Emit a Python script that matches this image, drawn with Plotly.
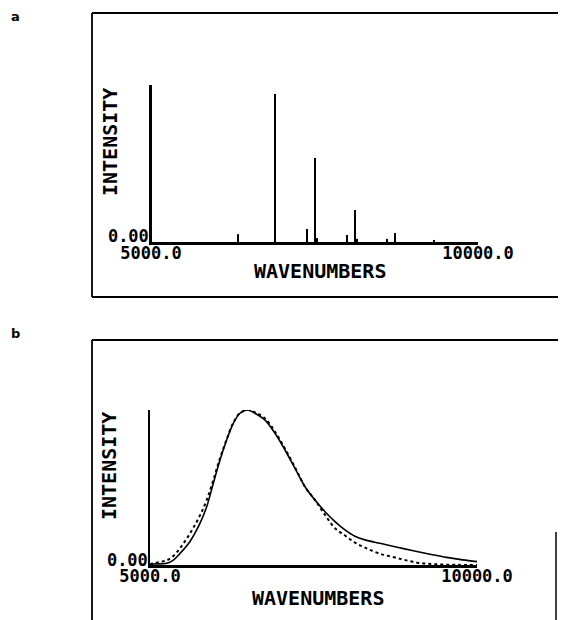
import plotly.graph_objects as go

OFF = 8  # page body margin
W, H = 566 - OFF, 620 - OFF

# ---- data ----
# panel a: stick spectrum
stick_wn = [5000, 6330, 6896, 7385, 7508, 7538, 7997, 8119, 8150, 8609, 8731, 9327]
stick_int = [1.0, 0.05, 0.943, 0.083, 0.535, 0.025, 0.045, 0.204, 0.02, 0.02, 0.057, 0.013]

# panel b: solid (observed) band
solid_wn = [5000, 5051, 5255, 5357, 5459, 5612, 5765, 5867, 5968, 6070, 6172, 6274,
            6376, 6488, 6606, 6758, 6911, 7064, 7217, 7370, 7523, 7676, 7829, 7982,
            8134, 8287, 8517, 8780, 9026, 9300, 9536, 9780, 10000]
solid_int = [0.0, 0.006, 0.011, 0.032, 0.075, 0.152, 0.27, 0.376, 0.527, 0.677, 0.806, 0.914,
             0.979, 1.0, 0.978, 0.935, 0.85, 0.742, 0.624, 0.505, 0.419, 0.344, 0.28, 0.226,
             0.185, 0.162, 0.14, 0.115, 0.092, 0.068, 0.049, 0.033, 0.022]

# panel b: dotted (calculated) band
dot_wn = [5000, 5051, 5153, 5255, 5357, 5459, 5561, 5663, 5765, 5867, 5968, 6070, 6172,
          6274, 6376, 6500, 6606, 6758, 6911, 7064, 7217, 7370, 7523, 7676, 7829, 7982,
          8134, 8287, 8500, 8780, 9085, 9400, 9700, 10000]
dot_int = [0.005, 0.011, 0.019, 0.03, 0.058, 0.108, 0.17, 0.24, 0.32, 0.419, 0.548, 0.688,
           0.81, 0.918, 0.98, 1.0, 0.985, 0.946, 0.86, 0.75, 0.63, 0.505, 0.419, 0.323, 0.237,
           0.19, 0.145, 0.112, 0.075, 0.045, 0.015, 0.004, 0.001, 0.0]

x_ticks = [5000, 10000]
x_ticktext = ["5000.0", "10000.0"]
y_ticks = [0]
y_ticktext = ["0.00"]

FONT = "DejaVu Sans Mono"

def px(x):
    return (x - OFF) / W

def py(y):
    return 1 - (y - OFF) / H

# build stick segments
sx, sy = [], []
for w, v in zip(stick_wn, stick_int):
    sx += [w, w, None]
    sy += [0, v, None]

fig = go.Figure()
fig.add_trace(go.Scatter(x=sx, y=sy, mode="lines", line=dict(color="black", width=2),
                         xaxis="x", yaxis="y", showlegend=False, cliponaxis=False))
fig.add_trace(go.Scatter(x=dot_wn, y=dot_int, mode="lines",
                         line=dict(color="black", width=2, dash="dot", shape="spline"),
                         xaxis="x2", yaxis="y2", showlegend=False, cliponaxis=False))
fig.add_trace(go.Scatter(x=solid_wn, y=solid_int, mode="lines",
                         line=dict(color="black", width=1.6, shape="spline"),
                         xaxis="x2", yaxis="y2", showlegend=False, cliponaxis=False))

tickfont = dict(family=FONT, size=17, color="black", weight="bold")
xcommon = dict(range=[5000, 10000], tickvals=x_ticks, ticktext=x_ticktext, ticks="",
               showline=True, linecolor="black", linewidth=2.5, showgrid=False,
               zeroline=False, tickfont=tickfont, automargin=False, ticklabelstandoff=-6)
ycommon = dict(range=[0, 1], tickvals=y_ticks, ticktext=y_ticktext, ticks="",
               showline=True, linecolor="black", linewidth=1.5, showgrid=False,
               zeroline=False, tickfont=tickfont, ticklabelstandoff=-3, automargin=False)

fig.update_layout(
    template="none",
    width=W, height=H,
    margin=dict(l=0, r=0, t=0, b=0, pad=0, autoexpand=False),
    paper_bgcolor="white", plot_bgcolor="white",
    xaxis=dict(domain=[px(151), px(478)], anchor="y", **xcommon),
    yaxis=dict(domain=[py(242), py(85)], anchor="x", ticklabelshift=-6, **ycommon),
    xaxis2=dict(domain=[px(150), px(477)], anchor="y2", **xcommon),
    yaxis2=dict(domain=[py(565), py(410)], anchor="x2", ticklabelshift=-5, **ycommon),
)

ann_font = dict(family=FONT, size=20, color="black", weight="bold")
lab_font = dict(family="DejaVu Sans", size=13, color="black", weight="bold")
annotations = [
    dict(text="a", x=px(15), y=py(17), font=lab_font),
    dict(text="b", x=px(15), y=py(333), font=lab_font),
    dict(text="INTENSITY", x=px(110), y=py(142), textangle=-90, font=ann_font),
    dict(text="INTENSITY", x=px(109), y=py(466), textangle=-90, font=ann_font),
    dict(text="WAVENUMBERS", x=px(320), y=py(271), font=ann_font),
    dict(text="WAVENUMBERS", x=px(318), y=py(598), font=ann_font),
]
for a in annotations:
    a.update(xref="paper", yref="paper", showarrow=False, xanchor="center", yanchor="middle")
fig.update_layout(annotations=annotations)

box = dict(color="black", width=1.8)
shapes = [
    # panel a frame (right edge falls outside the picture)
    dict(type="line", xref="paper", yref="paper", x0=px(92), x1=1.05, y0=py(13), y1=py(13), line=box),
    dict(type="line", xref="paper", yref="paper", x0=px(92), x1=px(92), y0=py(13), y1=py(297), line=box),
    dict(type="line", xref="paper", yref="paper", x0=px(92), x1=1.05, y0=py(297), y1=py(297), line=box),
    # panel b frame (bottom falls outside the picture)
    dict(type="line", xref="paper", yref="paper", x0=px(92), x1=1.05, y0=py(340), y1=py(340), line=box),
    dict(type="line", xref="paper", yref="paper", x0=px(92), x1=px(92), y0=py(340), y1=-0.05, line=box),
    dict(type="line", xref="paper", yref="paper", x0=px(556), x1=px(556), y0=py(532), y1=-0.05,
         line=dict(color="black", width=1.5)),
]
fig.update_layout(shapes=shapes)

fig.write_html("out.html")
